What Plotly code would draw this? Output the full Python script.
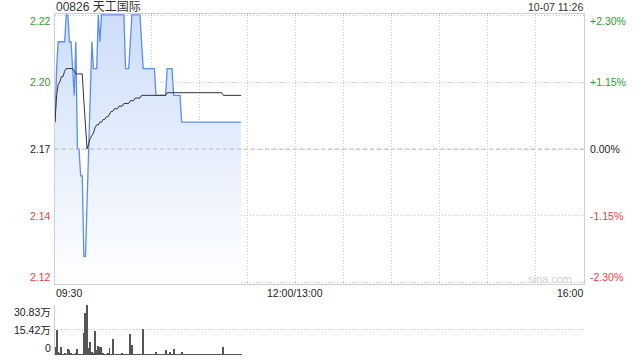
import plotly.graph_objects as go

# ---------------- data ----------------
prev_close = 2.17
minutes = list(range(0, 117))  # minutes since 09:30 (up to 11:26)

price = ([2.18, 2.20, 2.21, 2.21, 2.21, 2.21, 2.21, 2.22, 2.22, 2.21,
          2.21, 2.20, 2.19, 2.21, 2.17, 2.17, 2.16, 2.16, 2.13, 2.13,
          2.15, 2.17, 2.19, 2.21, 2.20, 2.20, 2.20, 2.22, 2.21, 2.22]
         + [2.22] * 14
         + [2.20, 2.20, 2.20, 2.21]
         + [2.22] * 6
         + [2.21]
         + [2.20] * 8
         + [2.19] * 7
         + [2.20] * 4
         + [2.19] * 5
         + [2.18] * 38)

avg_price = ([2.180, 2.190, 2.194, 2.195, 2.197, 2.197, 2.199, 2.200, 2.200, 2.200,
              2.200, 2.200, 2.199, 2.198, 2.198, 2.198, 2.198, 2.198, 2.188, 2.178,
              2.170, 2.172, 2.174, 2.175, 2.176, 2.178, 2.179, 2.179, 2.180, 2.180,
              2.181, 2.181, 2.182, 2.182, 2.183, 2.184, 2.184, 2.185, 2.185, 2.185,
              2.186, 2.186, 2.186, 2.187, 2.187, 2.187, 2.187, 2.188, 2.188, 2.188,
              2.189, 2.189, 2.189, 2.189, 2.190, 2.190]
             + [2.190] * 14
             + [2.191] * 35
             + [2.190] * 12)

volume = ([5.1, 15.5, 1.6, 0.8, 4.7, 0.5, 0.8, 0.6, 3.7, 3.1,
           1.4, 0.6, 0.4, 0.8, 3.7, 0.4, 0.5, 0.6, 13.4, 25.7,
           30.83, 4.1, 7.8, 2.0, 1.0, 15.0, 3.1, 5.8, 5.1, 5.1,
           0.8, 0.6, 0.5, 0.8, 4.1, 0.5, 9.9, 0.4, 0.5, 0.4,
           0.6, 0.3, 0.8, 0.5, 0.4, 0.6, 0.5, 12.9, 6.2, 0.4,
           0.3, 0.4, 0.3, 0.5, 0.4, 16.0, 0.4, 0.3, 0.3, 0.4,
           0.3, 0.3, 0.4, 1.6, 0.3, 0.3, 0.4, 0.3, 0.3, 3.1,
           0.4, 0.3, 1.6, 0.4, 3.7, 0.6, 0.3, 0.3, 0.3, 1.6]
          + [0.3] * 25
          + [4.9]
          + [0.3] * 11)

pct_levels = [0.023, 0.0115, 0.0, -0.0115, -0.023]
price_labels = ["2.22", "2.20", "2.17", "2.14", "2.12"]
pct_labels = ["+2.30%", "+1.15%", "0.00%", "-1.15%", "-2.30%"]
vol_ticks = [0, 15.42, 30.83]
vol_labels = ["0", "15.42万", "30.83万"]
time_ticks = [0, 150, 330]
time_labels = ["09:30", "12:00/13:00", "16:00"]
title_text = "00826 天工国际"
stamp_text = "10-07 11:26"

# ---------------- styling ----------------
W, H = 640, 360
FONT = "Liberation Sans, Arial, Noto Sans CJK SC, sans-serif"
GREEN = "#2a9d2a"
RED = "#f03c3c"
BLACK = "#222222"
GRID = "#c8c8c8"
BORDER = "#cfcfcf"

x0, x1 = 55, 584
main_top, main_bot = 14, 284
vol_top, vol_bot = 305, 355

def py(px):
    return 1 - px / H

ylo = prev_close * (1 - 0.0232)
yhi = prev_close * (1 + 0.0232)
level_vals = [prev_close * (1 + p) for p in pct_levels]

fig = go.Figure()

fig.add_trace(go.Scatter(
    x=minutes, y=price, mode="lines",
    line=dict(color="#5b8ef0", width=1.3),
    fill="tozeroy",
    fillgradient=dict(type="vertical", start=ylo, stop=yhi,
                      colorscale=[[0, "rgba(255,255,255,1)"],
                                  [1, "rgba(204,221,249,1)"]]),
    hoverinfo="skip", showlegend=False, xaxis="x", yaxis="y"))

fig.add_trace(go.Scatter(
    x=minutes, y=avg_price, mode="lines",
    line=dict(color="#333333", width=1),
    hoverinfo="skip", showlegend=False, xaxis="x", yaxis="y"))

fig.add_trace(go.Bar(
    x=minutes, y=volume, width=0.62,
    marker=dict(color="#555555", line=dict(width=0)),
    hoverinfo="skip", showlegend=False, xaxis="x2", yaxis="y2"))

fig.update_layout(
    width=W, height=H,
    margin=dict(l=0, r=0, t=0, b=0),
    paper_bgcolor="white", plot_bgcolor="white",
    font=dict(family=FONT, size=10.5, color=BLACK),
    bargap=0,
    xaxis=dict(domain=[x0 / W, x1 / W], range=[0, 330],
               tickvals=list(range(30, 330, 30)), showticklabels=False,
               showgrid=True, gridcolor=GRID, griddash="1px,2px", gridwidth=1,
               showline=True, mirror=True, linecolor=BORDER, linewidth=1,
               zeroline=False, ticks="", anchor="y", fixedrange=True),
    yaxis=dict(domain=[py(main_bot), py(main_top)], range=[ylo, yhi],
               tickvals=level_vals, showticklabels=False,
               showgrid=True, gridcolor=GRID, griddash="1px,2px", gridwidth=1,
               showline=True, mirror=True, linecolor=BORDER, linewidth=1,
               zeroline=False, ticks="", anchor="x", fixedrange=True),
    xaxis2=dict(domain=[x0 / W, x1 / W], range=[0, 330],
                showticklabels=False, showgrid=False, showline=False,
                zeroline=False, ticks="", anchor="y2", fixedrange=True),
    yaxis2=dict(domain=[py(vol_bot), py(vol_top)], range=[0, max(vol_ticks)],
                tickvals=vol_ticks, showticklabels=False,
                showgrid=True, gridcolor=GRID, griddash="1px,2px", gridwidth=1,
                showline=True, linecolor=BORDER, linewidth=1,
                zeroline=False, ticks="", anchor="x2", fixedrange=True),
)

# previous-close reference line
fig.add_shape(type="line", xref="x", yref="y", x0=0, x1=330,
              y0=prev_close, y1=prev_close,
              line=dict(color="#b8b8b8", width=1, dash="4px,3px"))

ann = []
# left price labels and right percent labels
for i, (v, pl, pc) in enumerate(zip(level_vals, price_labels, pct_labels)):
    p = pct_levels[i]
    col = GREEN if p > 0 else (RED if p < 0 else BLACK)
    if i == 0:
        anchor = "top"
    elif i == len(level_vals) - 1:
        anchor = "bottom"
    else:
        anchor = "middle"
    yy = yhi if i == 0 else (ylo if i == len(level_vals) - 1 else v)
    ann.append(dict(xref="paper", yref="y", x=(x0 - 3) / W, y=yy,
                    xanchor="right", yanchor=anchor, text=pl, showarrow=False,
                    font=dict(color=col, size=10.5), borderpad=0))
    ann.append(dict(xref="paper", yref="y", x=(x1 + 5) / W, y=yy,
                    xanchor="left", yanchor=anchor, text=pc, showarrow=False,
                    font=dict(color=col, size=10.5), borderpad=0))

# volume labels
for t, lab in zip(vol_ticks, vol_labels):
    if t == max(vol_ticks):
        anchor = "top"
    elif t == 0:
        anchor = "bottom"
    else:
        anchor = "middle"
    ann.append(dict(xref="paper", yref="y2", x=(x0 - 3) / W, y=t,
                    xanchor="right", yanchor=anchor, text=lab, showarrow=False,
                    font=dict(color=BLACK, size=10.5), borderpad=0))

# time labels
for t, lab in zip(time_ticks, time_labels):
    xa = "left" if t == time_ticks[0] else ("right" if t == time_ticks[-1] else "center")
    ann.append(dict(xref="x", yref="paper", x=t, y=py(293),
                    xanchor=xa, yanchor="middle", text=lab, showarrow=False,
                    font=dict(color=BLACK, size=10.5), borderpad=0))

# title and timestamp
ann.append(dict(xref="paper", yref="paper", x=x0 / W, y=py(7), xanchor="left",
                yanchor="middle", text=title_text, showarrow=False,
                font=dict(color="#333333", size=12), borderpad=0))
ann.append(dict(xref="paper", yref="paper", x=x1 / W, y=py(7), xanchor="right",
                yanchor="middle", text=stamp_text, showarrow=False,
                font=dict(color="#333333", size=10.5), borderpad=0))
# watermark
ann.append(dict(xref="paper", yref="paper", x=(x1 - 11) / W, y=py(279), xanchor="right",
                yanchor="middle", text="sina.com", showarrow=False,
                font=dict(color="#d0d0d0", size=11), borderpad=0))

fig.update_layout(annotations=ann)

fig.write_html("out.html", config={"displayModeBar": False})
